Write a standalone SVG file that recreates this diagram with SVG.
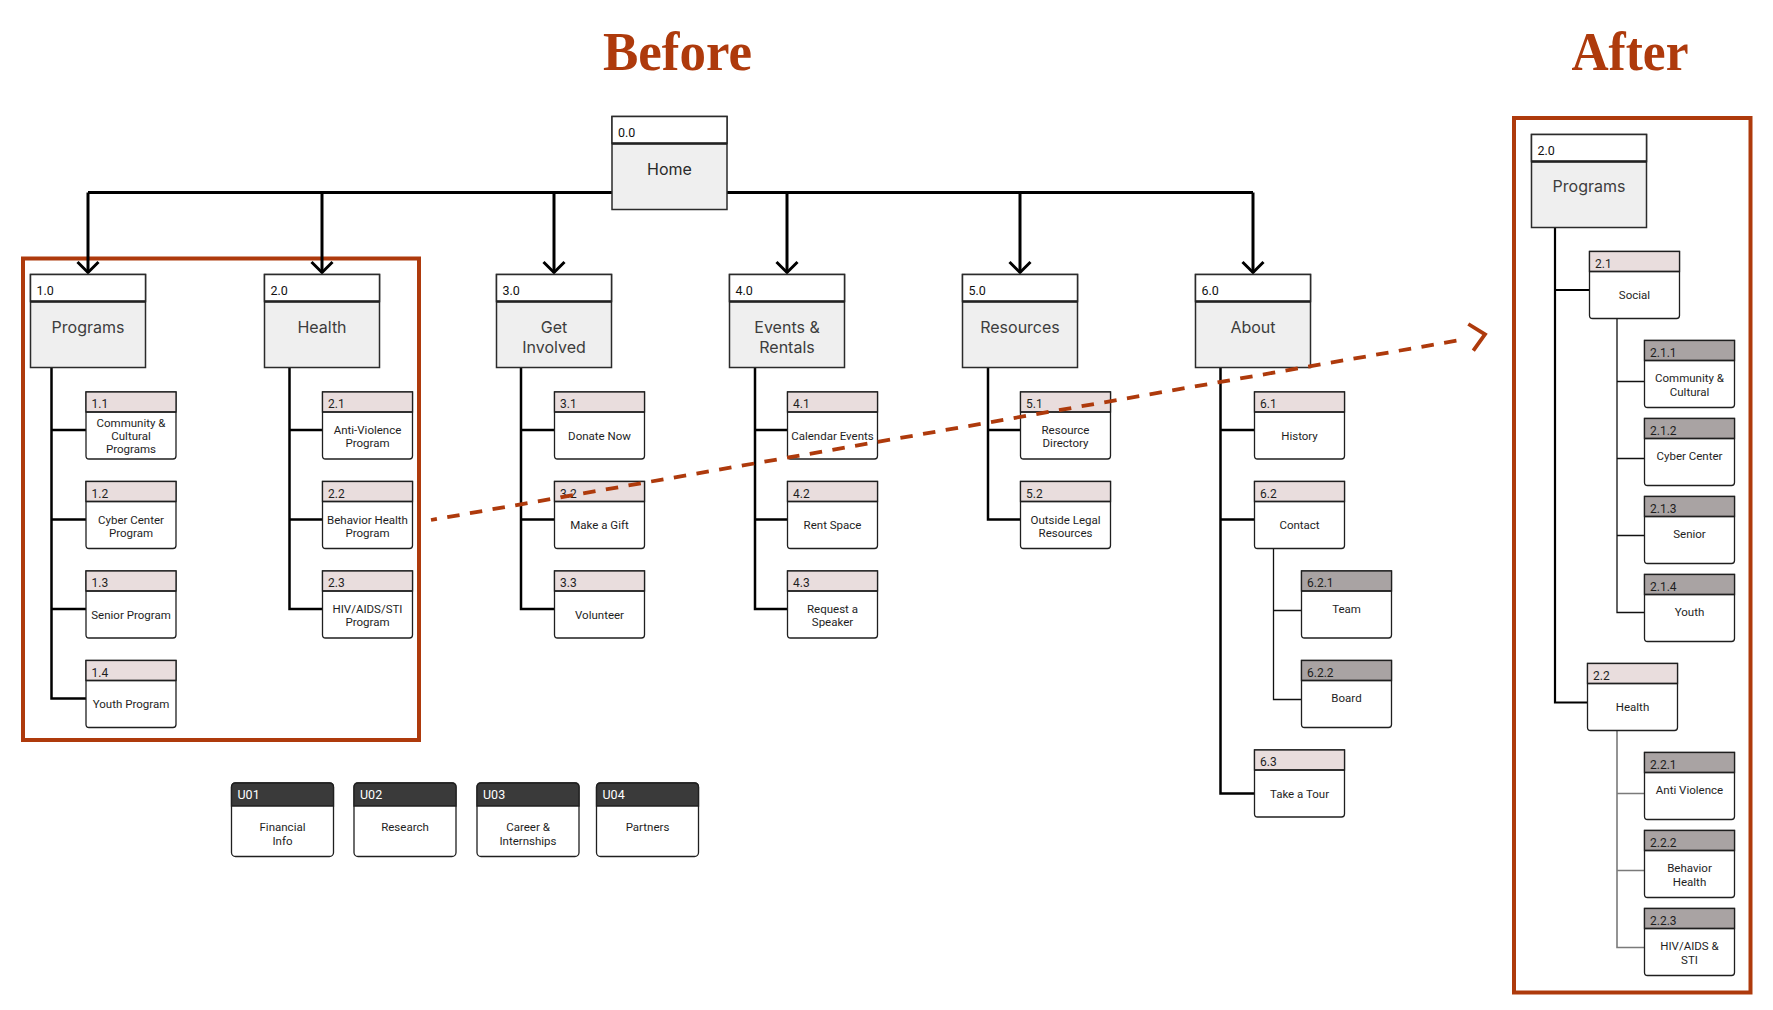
<svg xmlns="http://www.w3.org/2000/svg" width="1773" height="1010" viewBox="0 0 1773 1010">
<style>
.title{font-family:"Liberation Serif","DejaVu Serif",serif;font-weight:bold;font-size:54px;fill:#AE3A0C;text-anchor:middle}
.ttl{font-family:Inter,"Liberation Sans",sans-serif;font-size:16px;fill:#3d3d3d;text-anchor:middle}
.num{font-family:Roboto,"Liberation Sans",sans-serif;font-size:12px;fill:#1e1e1e}
.mnum{font-family:Roboto,"Liberation Sans",sans-serif;font-size:12.5px;fill:#111}
.body{font-family:Roboto,"Liberation Sans",sans-serif;font-size:11.5px;fill:#1e1e1e;text-anchor:middle}
.unum{font-family:Roboto,"Liberation Sans",sans-serif;font-size:12.5px;fill:#ffffff}
.frame{fill:none;stroke:#AE3A0C;stroke-width:4}
.main{fill:none;stroke:#000;stroke-width:3}
.tree{fill:none;stroke:#000;stroke-width:2.5}
.thin{fill:none;stroke:#111;stroke-width:1.3}
.thing{fill:none;stroke:#7a7a7a;stroke-width:1.6}
.dash{fill:none;stroke:#AE3A0C;stroke-width:3.8;stroke-dasharray:12.5 10.5;stroke-dashoffset:6.5}
</style>
<defs>
<marker id="arr" markerUnits="userSpaceOnUse" viewBox="-14 -14 28 28" markerWidth="28" markerHeight="28" refX="0" refY="0" orient="auto">
<path d="M-10.5 -10.5 L0 0 L-10.5 10.5" fill="none" stroke="#000" stroke-width="3"/>
</marker>
<g id="mb">
<rect x="0" y="0" width="115" height="93" fill="#EFEFEF" stroke="#2b2b2b" stroke-width="1.5"/>
<rect x="0" y="0" width="115" height="27" fill="#ffffff" stroke="#2b2b2b" stroke-width="1.5"/>
<line x1="0" y1="27" x2="115" y2="27" stroke="#222" stroke-width="2.5"/>
</g>
<g id="cbp">
<path d="M0 0H90V64Q90 67 87 67H3Q0 67 0 64Z" fill="#fff" stroke="#1f1f1f" stroke-width="1.3"/>
<rect x="0" y="0" width="90" height="20" fill="#E9DDDD" stroke="#1f1f1f" stroke-width="1.3"/>
<line x1="0" y1="20" x2="90" y2="20" stroke="#1f1f1f" stroke-width="1.6"/>
</g>
<g id="cbg">
<path d="M0 0H90V64Q90 67 87 67H3Q0 67 0 64Z" fill="#fff" stroke="#1f1f1f" stroke-width="1.3"/>
<rect x="0" y="0" width="90" height="20" fill="#A9A3A3" stroke="#1f1f1f" stroke-width="1.3"/>
<line x1="0" y1="20" x2="90" y2="20" stroke="#1f1f1f" stroke-width="1.6"/>
</g>
<g id="ub">
<rect x="0" y="0" width="102" height="73.5" rx="4" fill="#fff" stroke="#1f1f1f" stroke-width="1.3"/>
<path d="M0 23V4Q0 0 4 0H98Q102 0 102 4V23Z" fill="#3A3A3A" stroke="#1f1f1f" stroke-width="1.3"/>
</g>
</defs>
<rect x="0" y="0" width="1773" height="1010" fill="#ffffff"/>

<text class="title" x="677.5" y="70" textLength="149" lengthAdjust="spacingAndGlyphs">Before</text>
<text class="title" x="1630" y="70" textLength="117" lengthAdjust="spacingAndGlyphs">After</text>

<rect class="frame" x="23" y="258.5" width="396" height="481.5"/>
<rect class="frame" x="1514" y="118" width="236.5" height="874.5"/>

<g id="connectors">
<path class="main" d="M88 192.5 H1253"/>
<path class="main" d="M88 192.5 V272.5" marker-end="url(#arr)"/>
<path class="main" d="M322 192.5 V272.5" marker-end="url(#arr)"/>
<path class="main" d="M554 192.5 V272.5" marker-end="url(#arr)"/>
<path class="main" d="M787 192.5 V272.5" marker-end="url(#arr)"/>
<path class="main" d="M1020 192.5 V272.5" marker-end="url(#arr)"/>
<path class="main" d="M1253 192.5 V272.5" marker-end="url(#arr)"/>
<path class="tree" d="M51.5 367.5 V698.5 H86 M51.5 430 H86 M51.5 519.5 H86 M51.5 609 H86"/>
<path class="tree" d="M289.5 367.5 V609 H322.5 M289.5 430 H322.5 M289.5 519.5 H322.5"/>
<path class="tree" d="M521 367.5 V609 H554.5 M521 430 H554.5 M521 519.5 H554.5"/>
<path class="tree" d="M755 367.5 V609 H787.5 M755 430 H787.5 M755 519.5 H787.5"/>
<path class="tree" d="M988 367.5 V519.5 H1020.5 M988 430 H1020.5"/>
<path class="tree" d="M1220.5 367.5 V793.5 H1254.5 M1220.5 430 H1254.5 M1220.5 519.5 H1254.5"/>
<path class="thin" d="M1273.5 548.5 V699.5 H1301.5 M1273.5 610.5 H1301.5"/>
<path class="tree" style="stroke-width:2.2" d="M1555 227.5 V702.5 H1587.5 M1555 290 H1589.5"/>
<path class="thin" d="M1617 318.5 V612.5 H1644.5 M1617 381.5 H1644.5 M1617 458.5 H1644.5 M1617 535.5 H1644.5"/>
<path class="thing" d="M1617 730.5 V947.5 H1644.5 M1617 793.5 H1644.5 M1617 870.5 H1644.5"/>
</g>

<g id="n0-0" transform="translate(612,116.5)"><use href="#mb"/><text class="mnum" x="6" y="20">0.0</text><text class="ttl" x="57.5" y="58.5" style="fill:#2a2a2a">Home</text></g>
<g id="n1-0" transform="translate(30.5,274.5)"><use href="#mb"/><text class="mnum" x="6" y="20">1.0</text><text class="ttl" x="57.5" y="58">Programs</text></g>
<g id="n2-0" transform="translate(264.5,274.5)"><use href="#mb"/><text class="mnum" x="6" y="20">2.0</text><text class="ttl" x="57.5" y="58">Health</text></g>
<g id="n3-0" transform="translate(496.5,274.5)"><use href="#mb"/><text class="mnum" x="6" y="20">3.0</text><text class="ttl"><tspan x="57.5" y="58">Get</tspan><tspan x="57.5" y="78.5">Involved</tspan></text></g>
<g id="n4-0" transform="translate(729.5,274.5)"><use href="#mb"/><text class="mnum" x="6" y="20">4.0</text><text class="ttl"><tspan x="57.5" y="58">Events &amp;</tspan><tspan x="57.5" y="78.5">Rentals</tspan></text></g>
<g id="n5-0" transform="translate(962.5,274.5)"><use href="#mb"/><text class="mnum" x="6" y="20">5.0</text><text class="ttl" x="57.5" y="58">Resources</text></g>
<g id="n6-0" transform="translate(1195.5,274.5)"><use href="#mb"/><text class="mnum" x="6" y="20">6.0</text><text class="ttl" x="57.5" y="58">About</text></g>

<g id="n1-1" transform="translate(86,392)"><use href="#cbp"/><text class="num" x="5.5" y="16">1.1</text><text class="body"><tspan x="45" y="35">Community &amp;</tspan><tspan x="45" y="48">Cultural</tspan><tspan x="45" y="61">Programs</tspan></text></g>
<g id="n1-2" transform="translate(86,481.5)"><use href="#cbp"/><text class="num" x="5.5" y="16">1.2</text><text class="body"><tspan x="45" y="42">Cyber Center</tspan><tspan x="45" y="55">Program</tspan></text></g>
<g id="n1-3" transform="translate(86,571)"><use href="#cbp"/><text class="num" x="5.5" y="16">1.3</text><text class="body" x="45" y="47.5">Senior Program</text></g>
<g id="n1-4" transform="translate(86,660.5)"><use href="#cbp"/><text class="num" x="5.5" y="16">1.4</text><text class="body" x="45" y="47.5">Youth Program</text></g>

<g id="n2-1" transform="translate(322.5,392)"><use href="#cbp"/><text class="num" x="5.5" y="16">2.1</text><text class="body"><tspan x="45" y="42">Anti-Violence</tspan><tspan x="45" y="55">Program</tspan></text></g>
<g id="n2-2" transform="translate(322.5,481.5)"><use href="#cbp"/><text class="num" x="5.5" y="16">2.2</text><text class="body"><tspan x="45" y="42">Behavior Health</tspan><tspan x="45" y="55">Program</tspan></text></g>
<g id="n2-3" transform="translate(322.5,571)"><use href="#cbp"/><text class="num" x="5.5" y="16">2.3</text><text class="body"><tspan x="45" y="42">HIV/AIDS/STI</tspan><tspan x="45" y="55">Program</tspan></text></g>

<g id="n3-1" transform="translate(554.5,392)"><use href="#cbp"/><text class="num" x="5.5" y="16">3.1</text><text class="body" x="45" y="47.5">Donate Now</text></g>
<g id="n3-2" transform="translate(554.5,481.5)"><use href="#cbp"/><text class="num" x="5.5" y="16">3.2</text><text class="body" x="45" y="47.5">Make a Gift</text></g>
<g id="n3-3" transform="translate(554.5,571)"><use href="#cbp"/><text class="num" x="5.5" y="16">3.3</text><text class="body" x="45" y="47.5">Volunteer</text></g>

<g id="n4-1" transform="translate(787.5,392)"><use href="#cbp"/><text class="num" x="5.5" y="16">4.1</text><text class="body" x="45" y="47.5">Calendar Events</text></g>
<g id="n4-2" transform="translate(787.5,481.5)"><use href="#cbp"/><text class="num" x="5.5" y="16">4.2</text><text class="body" x="45" y="47.5">Rent Space</text></g>
<g id="n4-3" transform="translate(787.5,571)"><use href="#cbp"/><text class="num" x="5.5" y="16">4.3</text><text class="body"><tspan x="45" y="42">Request a</tspan><tspan x="45" y="55">Speaker</tspan></text></g>

<g id="n5-1" transform="translate(1020.5,392)"><use href="#cbp"/><text class="num" x="5.5" y="16">5.1</text><text class="body"><tspan x="45" y="42">Resource</tspan><tspan x="45" y="55">Directory</tspan></text></g>
<g id="n5-2" transform="translate(1020.5,481.5)"><use href="#cbp"/><text class="num" x="5.5" y="16">5.2</text><text class="body"><tspan x="45" y="42">Outside Legal</tspan><tspan x="45" y="55">Resources</tspan></text></g>

<g id="n6-1" transform="translate(1254.5,392)"><use href="#cbp"/><text class="num" x="5.5" y="16">6.1</text><text class="body" x="45" y="47.5">History</text></g>
<g id="n6-2" transform="translate(1254.5,481.5)"><use href="#cbp"/><text class="num" x="5.5" y="16">6.2</text><text class="body" x="45" y="47.5">Contact</text></g>
<g id="n6-2-1" transform="translate(1301.5,571)"><use href="#cbg"/><text class="num" x="5.5" y="16">6.2.1</text><text class="body" x="45" y="41.5">Team</text></g>
<g id="n6-2-2" transform="translate(1301.5,660.5)"><use href="#cbg"/><text class="num" x="5.5" y="16">6.2.2</text><text class="body" x="45" y="41.5">Board</text></g>
<g id="n6-3" transform="translate(1254.5,750)"><use href="#cbp"/><text class="num" x="5.5" y="16">6.3</text><text class="body" x="45" y="47.5">Take a Tour</text></g>

<g id="u01" transform="translate(231.5,783)"><use href="#ub"/><text class="unum" x="6" y="16">U01</text><text class="body"><tspan x="51" y="47.5">Financial</tspan><tspan x="51" y="62">Info</tspan></text></g>
<g id="u02" transform="translate(354,783)"><use href="#ub"/><text class="unum" x="6" y="16">U02</text><text class="body" x="51" y="47.5">Research</text></g>
<g id="u03" transform="translate(477,783)"><use href="#ub"/><text class="unum" x="6" y="16">U03</text><text class="body"><tspan x="51" y="47.5">Career &amp;</tspan><tspan x="51" y="62">Internships</tspan></text></g>
<g id="u04" transform="translate(596.5,783)"><use href="#ub"/><text class="unum" x="6" y="16">U04</text><text class="body" x="51" y="47.5">Partners</text></g>

<g id="a2-0" transform="translate(1531.5,134.5)"><use href="#mb"/><text class="mnum" x="6" y="20">2.0</text><text class="ttl" x="57.5" y="57.5">Programs</text></g>
<g id="a2-1" transform="translate(1589.5,251.5)"><use href="#cbp"/><text class="num" x="5.5" y="16">2.1</text><text class="body" x="45" y="47.5">Social</text></g>
<g id="a2-1-1" transform="translate(1644.5,340.5)"><use href="#cbg"/><text class="num" x="5.5" y="16">2.1.1</text><text class="body"><tspan x="45" y="41.5">Community &amp;</tspan><tspan x="45" y="55.5">Cultural</tspan></text></g>
<g id="a2-1-2" transform="translate(1644.5,418.5)"><use href="#cbg"/><text class="num" x="5.5" y="16">2.1.2</text><text class="body" x="45" y="41.5">Cyber Center</text></g>
<g id="a2-1-3" transform="translate(1644.5,496.5)"><use href="#cbg"/><text class="num" x="5.5" y="16">2.1.3</text><text class="body" x="45" y="41.5">Senior</text></g>
<g id="a2-1-4" transform="translate(1644.5,574.5)"><use href="#cbg"/><text class="num" x="5.5" y="16">2.1.4</text><text class="body" x="45" y="41.5">Youth</text></g>
<g id="a2-2" transform="translate(1587.5,663.5)"><use href="#cbp"/><text class="num" x="5.5" y="16">2.2</text><text class="body" x="45" y="47.5">Health</text></g>
<g id="a2-2-1" transform="translate(1644.5,752.5)"><use href="#cbg"/><text class="num" x="5.5" y="16">2.2.1</text><text class="body" x="45" y="41.5">Anti Violence</text></g>
<g id="a2-2-2" transform="translate(1644.5,830.5)"><use href="#cbg"/><text class="num" x="5.5" y="16">2.2.2</text><text class="body"><tspan x="45" y="41.5">Behavior</tspan><tspan x="45" y="55.5">Health</tspan></text></g>
<g id="a2-2-3" transform="translate(1644.5,908.5)"><use href="#cbg"/><text class="num" x="5.5" y="16">2.2.3</text><text class="body"><tspan x="45" y="41.5">HIV/AIDS &amp;</tspan><tspan x="45" y="55.5">STI</tspan></text></g>

<g id="connector-before-after">
<path class="dash" d="M431 520 L1466 339"/>
<path d="M1468.3 324 L1485 334.3 L1473.3 350.7" fill="none" stroke="#AE3A0C" stroke-width="3.8"/>
</g>
</svg>
